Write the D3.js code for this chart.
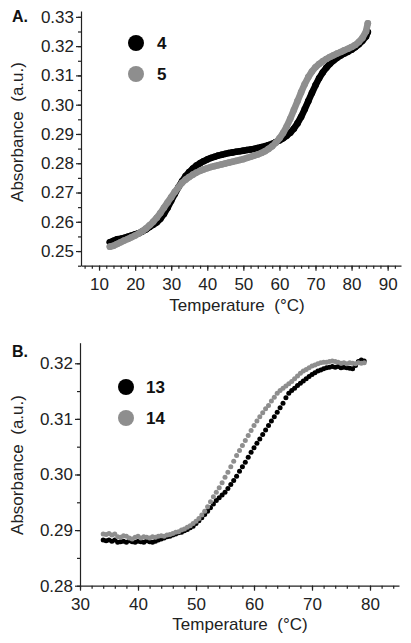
<!DOCTYPE html>
<html><head><meta charset="utf-8">
<script src="https://cdn.jsdelivr.net/npm/d3@7/dist/d3.min.js"></script>
<style>
html,body{margin:0;padding:0;background:#fff;}
svg{display:block;font-family:"Liberation Sans",Arial,sans-serif;}
</style></head>
<body>
<svg id="c" width="411" height="643"></svg>
<script>
// ---------- Panel A data ----------
const tempA = [13,14,15,16,17,18,19,20,21,22,23,24,25,26,27,28,29,30,31,32,33,34,35,36,37,38,39,40,41,42,43,44,45,46,47,48,49,50,51,52,53,54,55,56,57,58,59,60,61,62,63,64,65,66,67,68,69,70,71,72,73,74,75,76,77,78,79,80,81,82,83,84,84.5];
const absA4 = [.2530,.2535,.2540,.2542,.2545,.2549,.2553,.2557,.2561,.2567,.2574,.2582,.2590,.2598,.2610,.2627,.2648,.2672,.2695,.2718,.2738,.2756,.2770,.2782,.2792,.2800,.2807,.2813,.2818,.2822,.2826,.2829,.2832,.2835,.2837,.2839,.2841,.2843,.2845,.2847,.2849,.2852,.2855,.2858,.2862,.2866,.2872,.2878,.2885,.2894,.2904,.2918,.2936,.2958,.2984,.3012,.3040,.3066,.3090,.3110,.3126,.3140,.3151,.3160,.3168,.3175,.3181,.3188,.3196,.3206,.3218,.3233,.3248];
const absA5 = [.2515,.2518,.2524,.2530,.2536,.2541,.2547,.2553,.2560,.2568,.2577,.2588,.2600,.2614,.2630,.2648,.2666,.2684,.2702,.2718,.2733,.2744,.2753,.2761,.2768,.2774,.2779,.2783,.2787,.2790,.2793,.2796,.2799,.2802,.2805,.2808,.2811,.2814,.2818,.2822,.2826,.2830,.2835,.2841,.2849,.2858,.2870,.2885,.2903,.2925,.2952,.2982,.3012,.3042,.3070,.3094,.3113,.3128,.3139,.3148,.3156,.3163,.3169,.3175,.3180,.3186,.3191,.3197,.3204,.3214,.3228,.3250,.3278];
const xTicksA = [10,20,30,40,50,60,70,80,90];
const yTicksA = [0.25,0.26,0.27,0.28,0.29,0.30,0.31,0.32,0.33];
const seriesA = ["4","5"];

// ---------- Panel B data ----------
const tempB = [34,34.5,35,35.5,36,36.5,37,37.5,38,38.5,39,39.5,40,40.5,41,41.5,42,42.5,43,43.5,44,44.5,45,45.5,46,46.5,47,47.5,48,48.5,49,49.5,50,50.5,51,51.5,52,52.5,53,53.5,54,54.5,55,55.5,56,56.5,57,57.5,58,58.5,59,59.5,60,60.5,61,61.5,62,62.5,63,63.5,64,64.5,65,65.5,66,66.5,67,67.5,68,68.5,69,69.5,70,70.5,71,71.5,72,72.5,73,73.5,74,74.5,75,75.5,76,76.5,77,77.5,78,78.5,79];
const absB13 = [.2882,.2881,.2882,.2880,.2882,.2878,.2879,.2880,.2878,.2881,.2879,.2878,.2880,.2879,.2878,.2881,.2879,.2878,.2880,.2882,.2884,.2886,.2888,.2889,.2891,.2893,.2895,.2896,.2899,.2901,.2904,.2907,.2912,.2917,.2922,.2928,.2934,.2940,.2947,.2953,.2958,.2963,.2968,.2975,.2982,.2989,.2997,.3006,.3014,.3022,.3031,.3040,.3048,.3056,.3064,.3072,.3080,.3088,.3096,.3104,.3112,.3120,.3128,.3138,.3146,.3151,.3155,.3160,.3164,.3168,.3172,.3176,.3180,.3183,.3186,.3188,.3190,.3192,.3193,.3194,.3193,.3194,.3192,.3193,.3192,.3191,.3190,.3196,.3203,.3206,.3204];
const absB14 = [.2893,.2892,.2894,.2891,.2893,.2888,.2887,.2890,.2889,.2886,.2884,.2887,.2889,.2886,.2888,.2887,.2886,.2888,.2887,.2889,.2890,.2889,.2891,.2892,.2894,.2896,.2897,.2900,.2902,.2905,.2908,.2912,.2916,.2921,.2927,.2934,.2942,.2951,.2960,.2968,.2976,.2985,.2995,.3004,.3014,.3024,.3034,.3043,.3052,.3061,.3070,.3079,.3088,.3096,.3104,.3111,.3118,.3124,.3132,.3139,.3146,.3151,.3155,.3159,.3163,.3167,.3172,.3177,.3182,.3186,.3189,.3192,.3195,.3197,.3199,.3201,.3202,.3202,.3203,.3204,.3203,.3202,.3200,.3201,.3199,.3201,.3200,.3199,.3201,.3200,.3201];
const xTicksB = [30,40,50,60,70,80];
const yTicksB = [0.28,0.29,0.30,0.31,0.32];
const seriesB = ["13","14"];

const colors = ["#000000","#8e8e8e"];
const svg = d3.select("#c");
const axisColor = "#222";

function drawPanel(cfg){
  const g = svg.append("g");
  const x = d3.scaleLinear().domain(cfg.xDom).range(cfg.xRange);
  const y = d3.scaleLinear().domain(cfg.yDom).range(cfg.yRange);
  const x0 = cfg.xRange[0], y0 = cfg.yRange[0];

  // minor ticks
  const xm = d3.range(cfg.xMinor[0], cfg.xMinor[1]+0.001, cfg.xMinor[2]);
  g.append("g").attr("transform",`translate(0,${y0})`)
    .call(d3.axisBottom(x).tickValues(xm).tickSize(3).tickFormat("").tickSizeOuter(0))
    .call(s=>s.select(".domain").remove());
  const ym = d3.range(cfg.yMinor[0], cfg.yMinor[1]+1e-6, cfg.yMinor[2]);
  g.append("g").attr("transform",`translate(${x0},0)`)
    .call(d3.axisLeft(y).tickValues(ym).tickSize(3).tickFormat("").tickSizeOuter(0))
    .call(s=>s.select(".domain").remove());

  // major axes
  const xa = g.append("g").attr("transform",`translate(0,${y0})`)
    .call(d3.axisBottom(x).tickValues(cfg.xTicks).tickSize(5).tickPadding(7).tickSizeOuter(0).tickFormat(d3.format("d")));
  const ya = g.append("g").attr("transform",`translate(${x0},0)`)
    .call(d3.axisLeft(y).tickValues(cfg.yTicks).tickSize(5).tickPadding(2).tickSizeOuter(0).tickFormat(d3.format(".2f")));
  [xa,ya].forEach(a=>{
    a.selectAll("text").attr("font-size",17).attr("fill",axisColor).attr("font-family","Liberation Sans, Arial, sans-serif");
  });
  g.selectAll(".domain, .tick line").attr("stroke",axisColor).attr("stroke-width",1.2);

  // data
  cfg.series.forEach((vals,i)=>{
    const pts = cfg.temps.map((t,j)=>[t,vals[j]]);
    if(cfg.line){
      g.append("path").datum(pts)
        .attr("d", d3.line().x(d=>x(d[0])).y(d=>y(d[1])))
        .attr("fill","none").attr("stroke",colors[i]).attr("stroke-width",cfg.r*2)
        .attr("stroke-linejoin","round").attr("stroke-linecap","round");
    }
    g.append("g").selectAll("circle").data(pts).join("circle")
      .attr("cx",d=>x(d[0])).attr("cy",d=>y(d[1])).attr("r",cfg.r).attr("fill",colors[i]);
  });

  // legend
  cfg.names.forEach((n,i)=>{
    g.append("circle").attr("cx",cfg.leg[0]).attr("cy",cfg.leg[1]+i*cfg.leg[2]).attr("r",8).attr("fill",colors[i]);
    g.append("text").attr("x",cfg.leg[3]).attr("y",cfg.leg[1]+i*cfg.leg[2]+6.3)
      .attr("font-size",17).attr("font-weight","bold").attr("fill","#111").text(n);
  });

  // panel label
  g.append("text").attr("x",12).attr("y",cfg.labY).attr("font-size",16).attr("font-weight","bold").attr("fill","#111").text(cfg.label);

  // axis titles
  g.append("text").attr("x",cfg.xTitle[0]).attr("y",cfg.xTitle[1]).attr("text-anchor","middle")
    .attr("font-size",17).attr("fill",axisColor).attr("xml:space","preserve").text("Temperature  (°C)");
  g.append("text").attr("transform",`translate(${cfg.yTitle[0]},${cfg.yTitle[1]}) rotate(-90)`).attr("text-anchor","middle")
    .attr("font-size",17).attr("fill",axisColor).attr("xml:space","preserve").text("Absorbance  (a.u.)");
}

drawPanel({
  xDom:[5,93.7], xRange:[81,401], yDom:[0.245,0.332], yRange:[265.7,11],
  xTicks:xTicksA, yTicks:yTicksA, xMinor:[6,92,2], yMinor:[0.245,0.33,0.005],
  temps:tempA, series:[absA4,absA5], names:seriesA, r:3.3, line:true,
  leg:[136,43,31,157], label:"A.", labY:22, xTitle:[237,311], yTitle:[23,132]
});
drawPanel({
  xDom:[30,85], xRange:[80,399], yDom:[0.28,0.3237], yRange:[585.7,342.7],
  xTicks:xTicksB, yTicks:yTicksB, xMinor:[30,84,2], yMinor:[0.28,0.32,0.005],
  temps:tempB, series:[absB13,absB14], names:seriesB, r:2.5, line:false,
  leg:[126,387,31,146], label:"B.", labY:357, xTitle:[240,630], yTitle:[23,465]
});
</script>
</body></html>
